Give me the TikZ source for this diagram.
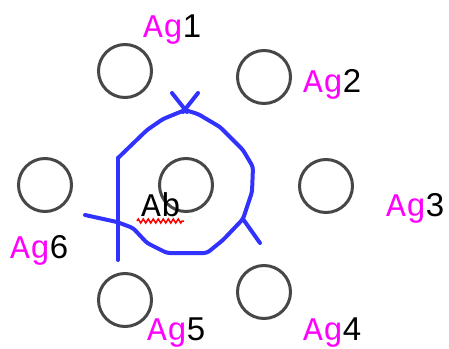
\documentclass[tikz,border=0pt]{standalone}
\usepackage{fontspec}
\setmainfont{Liberation Sans}
\newfontfamily\agfont{Liberation Mono}
\usetikzlibrary{decorations.pathmorphing}
\definecolor{agmag}{RGB}{255,0,255}
\definecolor{penblue}{RGB}{50,50,255}
\newcommand{\agtxt}[1]{{\agfont\textcolor{agmag}{Ag}}#1}
\tikzset{
  agring/.style={circle, draw=black!72, line width=3pt, minimum size=53pt, inner sep=0pt},
  aglabel/.style={anchor=base west, inner sep=0pt, font=\fontsize{33}{36}\selectfont},
  pen/.style={penblue, line width=4pt, line join=round, line cap=round}
}
\begin{document}
\begin{tikzpicture}[x=1pt, y=-1pt]
            \useasboundingbox (0,0) rectangle (449,348);
            % antigen rings
            \node[agring] (ag1) at (125,71)  {};
            \node[agring] (ag2) at (264,77)  {};
            \node[agring] (ag3) at (326,186) {};
            \node[agring] (ag4) at (264,292) {};
            \node[agring] (ag5) at (125,300) {};
            \node[agring] (ag6) at (45,185)  {};
            \node[agring] (agc) at (186,185) {};
            % labels
            \node[aglabel] (l1) at (143,37)  {\agtxt{1}};
            \node[aglabel] (l2) at (303,92)  {\agtxt{2}};
            \node[aglabel] (l3) at (386,216) {\agtxt{3}};
            \node[aglabel] (l4) at (303,340) {\agtxt{4}};
            \node[aglabel] (l5) at (147,340) {\agtxt{5}};
            \node[aglabel] (l6) at (10,258)  {\agtxt{6}};
            \node[aglabel] (ab) at (141,216) {\agfont Ab};
            % define point
            \coordinate (top)   at (185,110);
            \coordinate (lt)    at (118,158);
            \coordinate (lb)    at (118,260);
            \coordinate (le)    at (85,215);
            \coordinate (rc)    at (243,219);
            \coordinate (rt)    at (260,243);
            \coordinate (xa)    at (172,93);
            \coordinate (xb)    at (187,112);
            \coordinate (xc)    at (198,93);
            \coordinate (xd)    at (183,112);
            \coordinate (wl)    at (137,221);
            \coordinate (wr)    at (184,221);
            % pen strokes
            \draw[pen, rounded corners=3pt] (lt) -- (147,130) -- (163,119) -- (top) -- (198,114) -- (220,127)
                -- (243,150) -- (253,167) -- (252,192) -- (rc) -- (223,240) -- (207,253) -- (167,253)
                -- (147,243) -- (133,228) -- (117,222) -- (le);
            \draw[pen] (lt) -- (lb);
            \draw[pen] (xa) -- (xb);
            \draw[pen] (xc) -- (xd);
            \draw[pen] (rc) -- (rt);
            % squiggle under Ab
            \draw[red, line width=1.5pt, decorate, decoration={zigzag, segment length=5pt, amplitude=2pt}] (wl) -- (wr);
        \end{tikzpicture}
\end{document}
